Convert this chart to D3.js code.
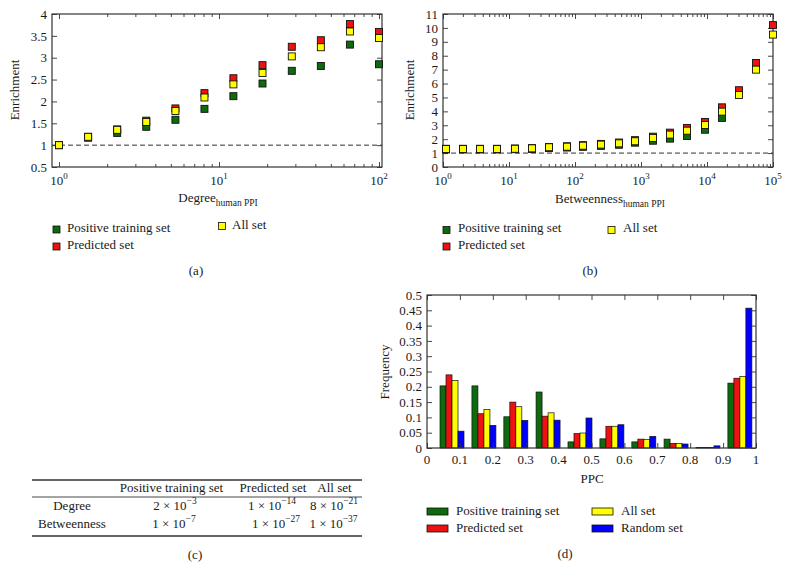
<!DOCTYPE html>
<html><head><meta charset="utf-8">
<script src="https://cdn.jsdelivr.net/npm/d3@7"></script>
<style>
body{margin:0;background:#fff}
svg text{font-family:"Liberation Serif","Times New Roman",serif;fill:#1a1a1a}
</style>
</head><body>
<svg id="c" width="790" height="568"></svg>
<script>
// ---------------- DATA ----------------
const seriesNames = ["Positive training set", "Predicted set", "All set", "Random set"];
const seriesColors = ["#0d6b0d", "#ee1111", "#ffff00", "#0000ff"];

// (a) Degree
const degreeX = [1, 1.52, 2.31, 3.51, 5.34, 8.11, 12.3, 18.7, 28.5, 43.3, 65.8, 100];
const degreePositive  = [1.00, 1.17, 1.28, 1.42, 1.58, 1.83, 2.12, 2.41, 2.70, 2.81, 3.30, 2.85];
const degreePredicted = [1.00, 1.19, 1.36, 1.56, 1.84, 2.19, 2.53, 2.83, 3.25, 3.40, 3.77, 3.59];
const degreeAll       = [1.00, 1.19, 1.35, 1.53, 1.78, 2.09, 2.39, 2.65, 3.03, 3.24, 3.60, 3.45];
const degreeYTicks = [0.5, 1, 1.5, 2, 2.5, 3, 3.5, 4];
const degreeXMajor = [1, 10, 100];
const degreeXLabels = ["0", "1", "2"];

// (b) Betweenness
const betweenX = [1.11, 2.01, 3.64, 6.58, 12.3, 22.3, 40.4, 75.6, 132, 248, 464, 811, 1520, 2750, 4980, 9330, 16900, 30500, 55200, 100000];
const betweenPositive  = [1.26, 1.26, 1.26, 1.26, 1.28, 1.30, 1.37, 1.40, 1.45, 1.52, 1.60, 1.75, 1.89, 2.04, 2.23, 2.68, 3.53, null, null, null];
const betweenPredicted = [1.31, 1.31, 1.31, 1.31, 1.33, 1.36, 1.44, 1.49, 1.57, 1.66, 1.76, 1.93, 2.18, 2.47, 2.81, 3.24, 4.29, 5.52, 7.48, 10.2];
const betweenAll       = [1.29, 1.29, 1.29, 1.29, 1.31, 1.34, 1.42, 1.46, 1.53, 1.61, 1.70, 1.85, 2.09, 2.33, 2.61, 3.02, 3.98, 5.18, 7.00, 9.52];
const betweenYTicks = [0, 1, 2, 3, 4, 5, 6, 7, 8, 9, 10, 11];
const betweenXMajor = [1, 10, 100, 1000, 10000, 100000];
const betweenXLabels = ["0", "1", "2", "3", "4", "5"];

// (c) table
const tableHeader = ["Positive training set", "Predicted set", "All set"];
const tableRows = ["Degree", "Betweenness"];
const tableMantissa = [["2", "1", "8"], ["1", "1", "1"]];
const tableExponent = [["−3", "−14", "−21"], ["−7", "−27", "−37"]];

// (d) PPC histogram
const ppcBins = [0.076, 0.173, 0.270, 0.368, 0.465, 0.562, 0.659, 0.757, 0.854, 0.951];
const ppcPositive  = [0.203, 0.203, 0.102, 0.183, 0.020, 0.030, 0.020, 0.029, 0.002, 0.212];
const ppcPredicted = [0.239, 0.112, 0.150, 0.104, 0.047, 0.071, 0.029, 0.015, 0.002, 0.228];
const ppcAll       = [0.221, 0.126, 0.135, 0.115, 0.049, 0.071, 0.028, 0.015, 0.002, 0.234];
const ppcRandom    = [0.055, 0.074, 0.090, 0.091, 0.098, 0.076, 0.038, 0.013, 0.007, 0.457];
const ppcXTicks = [0, 0.1, 0.2, 0.3, 0.4, 0.5, 0.6, 0.7, 0.8, 0.9, 1];
const ppcYTicks = [0, 0.05, 0.1, 0.15, 0.2, 0.25, 0.3, 0.35, 0.4, 0.45, 0.5];

// ---------------- DRAWING ----------------
const svg = d3.select("#c");
const FS = 13;
const AX = "#333";

function styleAxis(sel) {
  sel.select(".domain").remove();
  sel.selectAll(".tick line").attr("stroke", AX).attr("stroke-width", 0.9);
  sel.selectAll("text").attr("font-family", '"Liberation Serif",serif').attr("font-size", FS).attr("fill", "#1a1a1a");
  sel.attr("font-family", null).attr("font-size", null);
}

function frame(g, x, y, w, h, xMajor, xMinor, yTicks, yFmt) {
  const addX = (vals, len) => {
    g.append("g").attr("transform", `translate(0,${h})`)
      .call(d3.axisBottom(x).tickValues(vals).tickSizeInner(-len).tickSizeOuter(0).tickFormat(""))
      .call(styleAxis);
    g.append("g")
      .call(d3.axisTop(x).tickValues(vals).tickSizeInner(-len).tickSizeOuter(0).tickFormat(""))
      .call(styleAxis);
  };
  addX(xMajor, 5);
  if (xMinor) addX(xMinor, 3);
  g.append("g")
    .call(d3.axisLeft(y).tickValues(yTicks).tickSizeInner(-5).tickSizeOuter(0).tickPadding(5).tickFormat(yFmt))
    .call(styleAxis);
  g.append("g").attr("transform", `translate(${w},0)`)
    .call(d3.axisRight(y).tickValues(yTicks).tickSizeInner(-5).tickSizeOuter(0).tickFormat(""))
    .call(styleAxis);
  g.append("rect").attr("width", w).attr("height", h)
    .attr("fill", "none").attr("stroke", AX).attr("stroke-width", 1.2);
}

function logMinor(lo, hi) {
  const out = [];
  for (let d = Math.floor(Math.log10(lo)); d <= Math.ceil(Math.log10(hi)); d++) {
    for (let m = 2; m <= 9; m++) {
      const v = m * Math.pow(10, d);
      if (v > lo && v < hi) out.push(v);
    }
  }
  return out;
}

function powerLabels(g, x, h, vals, exps) {
  vals.forEach((v, i) => {
    const t = g.append("text").attr("x", x(v)).attr("y", h + 18)
      .attr("text-anchor", "middle").attr("font-size", FS);
    t.append("tspan").text("10");
    t.append("tspan").attr("dy", -6).attr("font-size", 9).text(exps[i]);
  });
}

function subLabel(x, y, main, sub) {
  const t = svg.append("text").attr("x", x).attr("y", y).attr("text-anchor", "middle").attr("font-size", FS);
  t.append("tspan").text(main);
  t.append("tspan").attr("dy", 4).attr("font-size", 9.5).text(sub);
}

function vLabel(x, y, txt) {
  svg.append("text").attr("transform", `translate(${x},${y}) rotate(-90)`)
    .attr("text-anchor", "middle").attr("font-size", FS).text(txt);
}

function markers(g, x, y, xs, series) {
  series.forEach(([vals, col]) => {
    const d = xs.map((xv, i) => ({ x: xv, v: vals[i] })).filter(p => p.v != null);
    g.selectAll(null).data(d).enter().append("rect")
      .attr("x", p => x(p.x) - 3.5).attr("y", p => y(p.v) - 3.5)
      .attr("width", 7).attr("height", 7)
      .attr("fill", col).attr("stroke", "#111").attr("stroke-width", 0.9);
  });
}

function squareLegend(items) {
  items.forEach(([x, y, col, txt, tx, ty]) => {
    svg.append("rect").attr("x", x).attr("y", y).attr("width", 7).attr("height", 7)
      .attr("fill", col).attr("stroke", "#111").attr("stroke-width", 0.8);
    svg.append("text").attr("x", tx).attr("y", ty).attr("font-size", FS).text(txt);
  });
}

function caption(x, y, txt) {
  svg.append("text").attr("x", x).attr("y", y).attr("text-anchor", "middle").attr("font-size", FS).text(txt);
}

// ---- Panel (a)
{
  const L = 52, T = 14, W = 330, H = 153;
  const x = d3.scaleLog().domain([0.904, 104.4]).range([0, W]);
  const y = d3.scaleLinear().domain([0.5, 4]).range([H, 0]);
  const g = svg.append("g").attr("transform", `translate(${L},${T})`);
  frame(g, x, y, W, H, degreeXMajor, logMinor(0.904, 104.4), degreeYTicks, d3.format("~g"));
  g.append("line").attr("x1", 0).attr("x2", W).attr("y1", y(1)).attr("y2", y(1))
    .attr("stroke", AX).attr("stroke-dasharray", "5,3").attr("stroke-width", 1);
  markers(g, x, y, degreeX, [[degreePositive, seriesColors[0]], [degreePredicted, seriesColors[1]], [degreeAll, seriesColors[2]]]);
  powerLabels(g, x, H, degreeXMajor, degreeXLabels);
  subLabel(218, 202, "Degree", "human PPI");
  vLabel(19, 90, "Enrichment");
  squareLegend([
    [53, 226, seriesColors[0], seriesNames[0], 67, 232],
    [53, 243, seriesColors[1], seriesNames[1], 67, 249],
    [218.5, 222.5, seriesColors[2], seriesNames[2], 232, 229]
  ]);
  caption(196, 275, "(a)");
}

// ---- Panel (b)
{
  const L = 443, T = 14, W = 330, H = 153;
  const x = d3.scaleLog().domain([1, 100000]).range([0, W]);
  const y = d3.scaleLinear().domain([0, 11]).range([H, 0]);
  const g = svg.append("g").attr("transform", `translate(${L},${T})`);
  frame(g, x, y, W, H, betweenXMajor, logMinor(1, 100000), betweenYTicks, d3.format("d"));
  g.append("line").attr("x1", 0).attr("x2", W).attr("y1", y(1)).attr("y2", y(1))
    .attr("stroke", AX).attr("stroke-dasharray", "5,3").attr("stroke-width", 1);
  markers(g, x, y, betweenX, [[betweenPositive, seriesColors[0]], [betweenPredicted, seriesColors[1]], [betweenAll, seriesColors[2]]]);
  powerLabels(g, x, H, betweenXMajor, betweenXLabels);
  subLabel(610, 203, "Betweenness", "human PPI");
  vLabel(414, 90, "Enrichment");
  squareLegend([
    [443, 226.5, seriesColors[0], seriesNames[0], 458, 232],
    [443, 243, seriesColors[1], seriesNames[1], 458, 249],
    [608, 226.5, seriesColors[2], seriesNames[2], 623, 232]
  ]);
  caption(590, 275, "(b)");
}

// ---- Table (c)
{
  const rule = (y, sw) => svg.append("line").attr("x1", 32).attr("x2", 362).attr("y1", y).attr("y2", y)
    .attr("stroke", "#333").attr("stroke-width", sw);
  rule(480, 1.4); rule(497, 0.9); rule(536, 1.4);
  const headX = [171.5, 273, 334.5];
  tableHeader.forEach((h, i) => svg.append("text").attr("x", headX[i]).attr("y", 492)
    .attr("text-anchor", "middle").attr("font-size", FS).text(h));
  const rowY = [510, 528];
  const cellX = [[175, 272, 334], [174, 276, 333.5]];
  tableRows.forEach((r, j) => {
    svg.append("text").attr("x", 72).attr("y", rowY[j]).attr("text-anchor", "middle").attr("font-size", FS).text(r);
    tableMantissa[j].forEach((m, i) => {
      const t = svg.append("text").attr("x", cellX[j][i]).attr("y", rowY[j])
        .attr("text-anchor", "middle").attr("font-size", FS);
      t.append("tspan").text(m + " × 10");
      t.append("tspan").attr("dy", -6).attr("font-size", 9.5).text(tableExponent[j][i]);
    });
  });
  caption(195, 559, "(c)");
}

// ---- Panel (d)
{
  const L = 427, T = 295, W = 329, H = 153;
  const x = d3.scaleLinear().domain([0, 1]).range([0, W]);
  const y = d3.scaleLinear().domain([0, 0.5]).range([H, 0]);
  const g = svg.append("g").attr("transform", `translate(${L},${T})`);
  const series = [ppcPositive, ppcPredicted, ppcAll, ppcRandom];
  const groupW = x(0.0729) - x(0);
  const inner = d3.scaleBand().domain(d3.range(series.length)).range([-groupW / 2, groupW / 2]);
  series.forEach((vals, s) => {
    g.selectAll(null).data(vals).enter().append("rect")
      .attr("x", (v, i) => x(ppcBins[i]) + inner(s))
      .attr("width", inner.bandwidth())
      .attr("y", v => y(v)).attr("height", v => y(0) - y(v))
      .attr("fill", seriesColors[s]).attr("stroke", "#111").attr("stroke-width", 0.7);
  });
  frame(g, x, y, W, H, ppcXTicks, null, ppcYTicks, d3.format("~g"));
  ppcXTicks.forEach(v => g.append("text").attr("x", x(v)).attr("y", H + 16)
    .attr("text-anchor", "middle").attr("font-size", FS).text(d3.format("~g")(v)));
  caption(592, 483, "PPC");
  vLabel(389, 372, "Frequency");
  const leg = [[427, 508, 0, 456, 515], [427, 525, 1, 456, 532], [592, 508, 2, 621, 515], [592, 525, 3, 621, 532]];
  leg.forEach(([rx, ry, s, tx, ty]) => {
    svg.append("rect").attr("x", rx).attr("y", ry).attr("width", 21).attr("height", 7)
      .attr("fill", seriesColors[s]).attr("stroke", "#111").attr("stroke-width", 0.8);
    svg.append("text").attr("x", tx).attr("y", ty).attr("font-size", FS).text(seriesNames[s]);
  });
  caption(565, 558, "(d)");
}
</script>
</body></html>
